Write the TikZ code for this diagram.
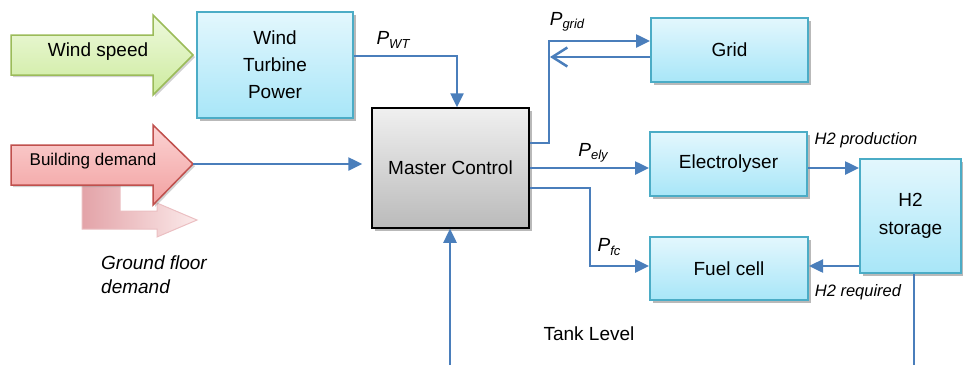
\documentclass[tikz,border=0pt]{standalone}
\usepackage{fontspec}
\setmainfont{Liberation Sans}
\usetikzlibrary{arrows.meta,shadows,calc}

\definecolor{flowblue}{HTML}{4A7EBB}
\definecolor{boxline}{HTML}{4BACC6}
\definecolor{boxtop}{HTML}{E3F7FD}
\definecolor{boxbot}{HTML}{A8E6F8}
\definecolor{greenline}{HTML}{9BBB59}
\definecolor{greentop}{HTML}{EEF9DD}
\definecolor{greenbot}{HTML}{CDEB9E}
\definecolor{redline}{HTML}{C0504D}
\definecolor{redtop}{HTML}{FBD3D3}
\definecolor{redbot}{HTML}{F2A0A0}
\definecolor{fadeleft}{HTML}{E3A3A8}
\definecolor{faderight}{HTML}{FBEAEA}

\newcommand\powsub[1]{\textit{P}\raisebox{-0.35ex}{\fontsize{13}{13}\selectfont\itshape #1}}

\begin{document}
\begin{tikzpicture}[x=1pt,y=-1pt,
  unitbox/.style={draw=boxline, line width=2pt, top color=boxtop, bottom color=boxbot,
    inner sep=0pt, align=center, font=\fontsize{19}{27}\selectfont,
    drop shadow={shadow xshift=2.5pt, shadow yshift=-2.5pt, fill=black!50, opacity=0.55}},
  masterbox/.style={draw=black, line width=1.5pt, top color=black!6, bottom color=black!27,
    inner sep=0pt, align=center, font=\fontsize{19}{23}\selectfont,
    drop shadow={shadow xshift=2.5pt, shadow yshift=-2.5pt, fill=black!50, opacity=0.55}},
  flow/.style={draw=flowblue, line width=2.5pt, line join=miter,
    -{Triangle[length=14pt,width=13pt]}},
  backflow/.style={draw=flowblue, line width=2.5pt,
    -{Straight Barb[length=15pt,width=19pt]}},
  plain/.style={draw=flowblue, line width=2.5pt},
  lab/.style={font=\fontsize{19}{23}\selectfont, inner sep=0pt},
  smalllab/.style={font=\fontsize{16.5}{20}\selectfont\itshape, inner sep=0pt},
  bigarrow/.style={line width=1.5pt, line join=miter,
    drop shadow={shadow xshift=2pt, shadow yshift=-2pt, fill=black!45, opacity=0.4}}
]
\useasboundingbox (0,0) rectangle (963,365);

% input arrows on the left
\shade[left color=fadeleft, right color=faderight, draw=fadeleft!70, line width=1pt]
  (82,185) -- (120,185) -- (120,211) -- (157,211) -- (157,203) -- (197,220)
  -- (157,237) -- (157,229) -- (82,229) -- cycle;
\path[bigarrow, draw=greenline, top color=greentop, bottom color=greenbot]
  (11,35) -- (153,35) -- (153,15) -- (193,55) -- (153,95) -- (153,75) -- (11,75) -- cycle;
\path[bigarrow, draw=redline, top color=redtop, bottom color=redbot]
  (11,145) -- (153,145) -- (153,125) -- (193,164) -- (153,205) -- (153,185) -- (11,185) -- cycle;
\coordinate (bdtip) at (193,164);
\node[lab] (windtxt) at (98,52) {Wind speed};
\node[lab, font=\fontsize{17}{20}\selectfont] (bdtxt) at (93,161) {Building demand};
\node[lab, font=\fontsize{19}{24}\selectfont\itshape, align=left, anchor=west] (gftxt)
  at (101,275) {Ground floor\\demand};

% blocks
\node[unitbox, minimum width=156pt, minimum height=106pt] (wt) at (275,65) {Wind\\Turbine\\Power};
\node[masterbox, minimum width=157pt, minimum height=120pt] (master) at (450.5,168) {Master Control};
\node[unitbox, minimum width=157pt, minimum height=64pt] (grid) at (729.5,50) {Grid};
\node[unitbox, minimum width=157pt, minimum height=64pt] (ely) at (728.5,164) {Electrolyser};
\node[unitbox, minimum width=158pt, minimum height=63pt] (fc) at (729,268.5) {Fuel cell};
\node[unitbox, minimum width=101pt, minimum height=114pt, font=\fontsize{19}{28}\selectfont]
  (h2) at (910.5,216) {H2\\storage};

% free ends at the lower edge
\coordinate (mfeed) at (450,365);
\coordinate (tankend) at (914,365);

% connectors
\draw[flow] ([yshift=9pt]wt.east) -| ([xshift=6.5pt]master.north);
\draw[flow, shorten >=9pt] (bdtip) -- (bdtip -| master.west);
\draw[flow] ([yshift=25pt]master.east) -- ++(19,0) |- ([yshift=9pt]grid.west);
\draw[backflow] ([yshift=-7pt]grid.west) -- ++(-100,0);
\draw[flow] (master.east) -- (master.east -| ely.west);
\draw[flow] ([yshift=-20pt]master.east) -- ++(60,0) |- ([yshift=2.5pt]fc.west);
\draw[flow] (ely.east |- 0,168) -- (h2.west |- 0,168);
\draw[flow] (h2.west |- 0,266) -- (fc.east |- 0,266);
\draw[plain] (h2.south -| tankend) -- (tankend);
\draw[flow] (mfeed) -- (mfeed |- master.south);

% labels
\node[lab] (lwt) at (393,40) {\powsub{WT}};
\node[lab] (lgrid) at (567,22) {\powsub{grid}};
\node[lab] (lely) at (593,153) {\powsub{ely}};
\node[lab] (lfc) at (609,247) {\powsub{fc}};
\node[smalllab] (lprod) at (866,140) {H2 production};
\node[smalllab] (lreq) at (858,292) {H2 required};
\node[lab] (ltank) at (589,334) {Tank Level};
\end{tikzpicture}
\end{document}
